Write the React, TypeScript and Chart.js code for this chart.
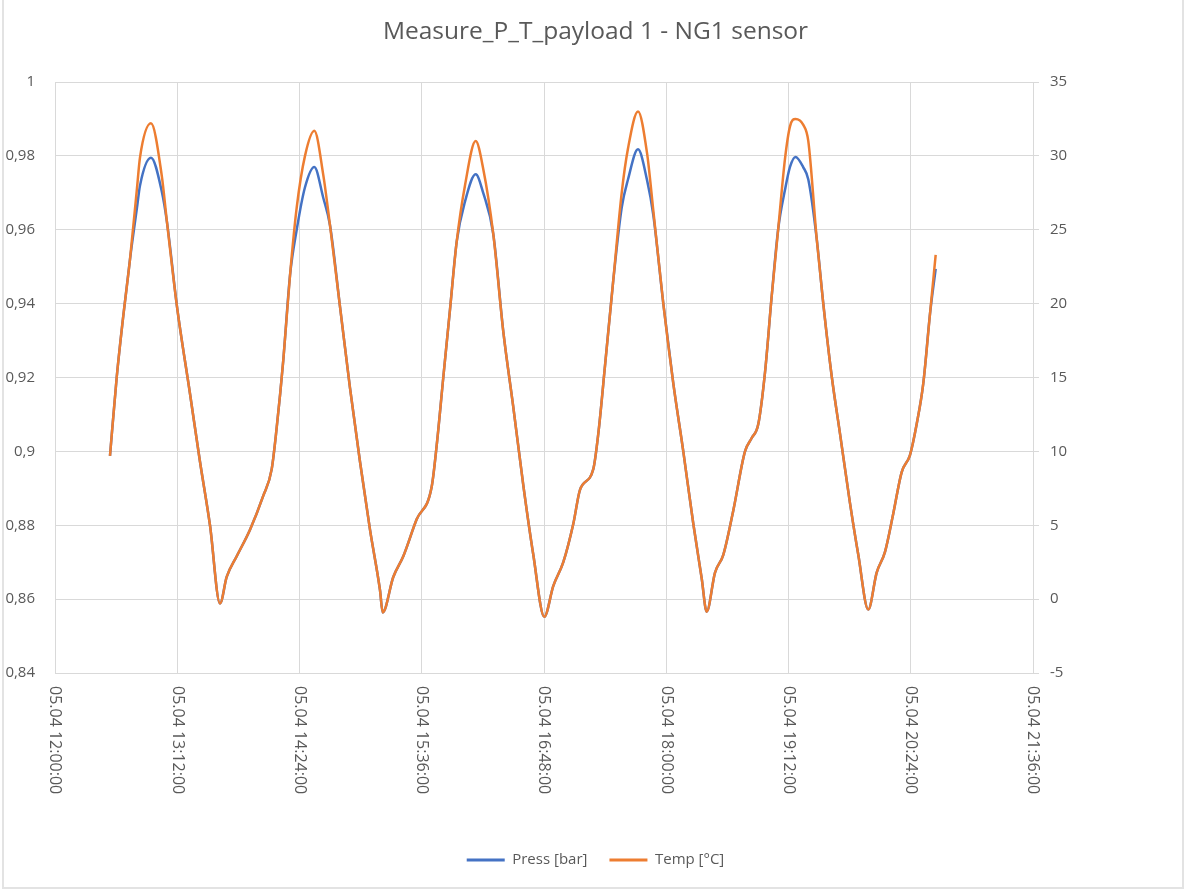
import React, { useEffect, useRef } from 'react';
import { Chart, registerables } from 'chart.js';

Chart.register(...registerables);

// Sample times on 05.04 (HH:MM:SS)
const times = [
  '12:32:23', '12:36:20', '12:40:03', '12:44:10', '12:48:17', '12:50:04', '12:56:32', '13:02:50', '13:05:58', '13:11:51',
  '13:19:31', '13:25:24', '13:31:17', '13:37:11', '13:41:07', '13:47:01', '13:54:51', '14:02:41', '14:07:38', '14:10:34',
  '14:14:28', '14:18:24', '14:22:21', '14:27:14', '14:32:43', '14:38:01', '14:41:58', '14:47:51', '14:53:44', '14:59:38',
  '15:05:31', '15:11:25', '15:13:00', '15:19:14', '15:25:08', '15:33:01', '15:41:51', '15:44:48', '15:48:41', '15:52:38',
  '15:56:35', '16:01:28', '16:07:46', '16:12:15', '16:18:08', '16:24:02', '16:29:55', '16:35:49', '16:41:42', '16:48:11',
  '16:53:29', '16:59:22', '17:05:16', '17:09:12', '17:17:02', '17:19:59', '17:23:56', '17:28:49', '17:33:46', '17:37:28',
  '17:43:22', '17:48:40', '17:52:23', '17:58:16', '18:04:09', '18:10:02', '18:15:56', '18:20:53', '18:23:49', '18:28:43',
  '18:33:36', '18:39:29', '18:46:23', '18:50:20', '18:54:13', '18:58:10', '19:02:06', '19:05:59', '19:09:56', '19:12:53',
  '19:16:07', '19:20:43', '19:23:40', '19:28:36', '19:32:29', '19:37:26', '19:42:20', '19:48:13', '19:53:06', '19:58:59',
  '20:03:56', '20:08:50', '20:13:43', '20:18:40', '20:23:33', '20:27:30', '20:31:23', '20:35:20', '20:38:41',
];

const pressBar = [
  0.8988, 0.920, 0.936, 0.952, 0.966, 0.972, 0.9795, 0.9705, 0.962, 0.9392,
  0.9156, 0.8972, 0.880, 0.8588, 0.866, 0.8716, 0.8788, 0.888, 0.8952, 0.9064,
  0.9248, 0.9476, 0.960, 0.9715, 0.977, 0.9686, 0.9612, 0.9392, 0.9172, 0.8972,
  0.8788, 0.8624, 0.8564, 0.866, 0.8716, 0.8816, 0.8904, 0.9016, 0.920, 0.9384,
  0.9568, 0.9676, 0.975, 0.9699, 0.9588, 0.9324, 0.912, 0.8908, 0.872, 0.8552,
  0.8636, 0.870, 0.8804, 0.8896, 0.8952, 0.9048, 0.9232, 0.9464, 0.966, 0.9736,
  0.9818, 0.9735, 0.964, 0.940, 0.9184, 0.900, 0.8804, 0.8656, 0.8566, 0.8672,
  0.872, 0.884, 0.900, 0.9036, 0.9074, 0.9214, 0.942, 0.9604, 0.9708, 0.977,
  0.9797, 0.9769, 0.9736, 0.9576, 0.940, 0.9204, 0.9048, 0.886, 0.872, 0.8572,
  0.8672, 0.8728, 0.8832, 0.8944, 0.899, 0.9074, 0.9184, 0.9372, 0.9494,
];

const tempC = [
  9.7, 15.0, 19.0, 23.0, 27.8, 29.9, 32.2, 28.7, 25.5, 19.8,
  13.9, 9.3, 5.0, -0.3, 1.5, 2.9, 4.7, 7.0, 8.8, 11.6,
  16.2, 21.9, 26.5, 30.0, 31.7, 28.7, 25.3, 19.8, 14.3, 9.3,
  4.7, 0.6, -0.9, 1.5, 2.9, 5.4, 7.6, 10.4, 15.0, 19.6,
  24.2, 28.0, 31.0, 29.1, 24.7, 18.1, 13.0, 7.7, 3.0, -1.2,
  0.9, 2.5, 5.1, 7.4, 8.8, 11.2, 15.8, 21.6, 27.5, 30.5,
  33.0, 30.2, 26.3, 20.0, 14.6, 10.0, 5.1, 1.4, -0.85, 1.8,
  3.0, 6.0, 10.0, 10.9, 11.85, 15.35, 20.5, 25.1, 29.8, 32.0,
  32.5, 32.1, 31.0, 24.4, 20.0, 15.1, 11.2, 6.5, 3.0, -0.7,
  1.8, 3.2, 5.8, 8.6, 9.75, 11.85, 14.6, 19.3, 23.3,
];

const xTickLabels = [
  '05.04 12:00:00', '05.04 13:12:00', '05.04 14:24:00', '05.04 15:36:00', '05.04 16:48:00',
  '05.04 18:00:00', '05.04 19:12:00', '05.04 20:24:00', '05.04 21:36:00',
];

const seriesNames = ['Press [bar]', 'Temp [°C]'];
const chartTitle = 'Measure_P_T_payload 1 - NG1 sensor';

const W = 1191;
const H = 891;
const PLOT_LEFT = 55;
const PLOT_RIGHT = 1033;
const PLOT_BOTTOM = 673;
const BOTTOM_PAD = 13.5;
const TEXT = '#595959';
const GRID = '#d9d9d9';
const FONT = '"Open Sans", "DejaVu Sans", sans-serif';

const toMinutes = (t: string) => {
  const [h, m, s] = t.split(':').map(Number);
  return (h - 12) * 60 + m + (s || 0) / 60;
};

const xLabelPlugin = {
  id: 'rotatedXLabels',
  afterDraw(chart: any) {
    const s = chart.scales.x;
    const ctx = chart.ctx;
    ctx.save();
    ctx.font = `16px ${FONT}`;
    ctx.fillStyle = TEXT;
    ctx.textAlign = 'left';
    ctx.textBaseline = 'middle';
    s.ticks.forEach((t: any, i: number) => {
      const x = s.getPixelForValue(t.value);
      ctx.save();
      ctx.translate(x, s.top + 13);
      ctx.rotate(Math.PI / 2);
      ctx.fillText(xTickLabels[i] ?? '', 0, 0);
      ctx.restore();
    });
    ctx.restore();
  },
};

export default function App() {
  const ref = useRef<HTMLCanvasElement>(null);

  useEffect(() => {
    document.body.style.margin = '0';
    const canvas = ref.current;
    if (!canvas) return;
    const xs = times.map(toMinutes);
    const chart = new Chart(canvas, {
      type: 'line',
      data: {
        datasets: [
          {
            label: seriesNames[0],
            data: xs.map((x, i) => ({ x, y: pressBar[i] })),
            borderColor: '#4472C4',
            backgroundColor: '#4472C4',
            borderWidth: 2.5,
            pointRadius: 0,
            cubicInterpolationMode: 'monotone',
            yAxisID: 'y',
            order: 1,
          },
          {
            label: seriesNames[1],
            data: xs.map((x, i) => ({ x, y: tempC[i] })),
            borderColor: '#ED7D31',
            backgroundColor: '#ED7D31',
            borderWidth: 2.5,
            pointRadius: 0,
            cubicInterpolationMode: 'monotone',
            yAxisID: 'y1',
            order: 0,
          },
        ],
      },
      options: {
        responsive: false,
        animation: false,
        devicePixelRatio: 1,
        layout: { padding: { left: 0, right: 0, top: 0, bottom: BOTTOM_PAD } },
        plugins: {
          title: {
            display: true,
            text: chartTitle,
            color: TEXT,
            font: { family: FONT, size: 24.5, weight: 'normal' },
            padding: { top: 17, bottom: 35.6 },
          },
          legend: {
            position: 'bottom',
            labels: {
              color: TEXT,
              font: { family: FONT, size: 15 },
              boxWidth: 38,
              boxHeight: 3,
              padding: 22,
              sort: (a: any, b: any) => a.datasetIndex - b.datasetIndex,
              generateLabels: (c: any) =>
                Chart.defaults.plugins.legend.labels
                  .generateLabels(c)
                  .map((l: any) => ({ ...l, lineWidth: 0, fillStyle: l.strokeStyle })),
            },
          },
          tooltip: { enabled: false },
        },
        scales: {
          x: {
            type: 'linear',
            min: 0,
            max: 576,
            ticks: {
              stepSize: 72,
              display: false,
              callback: (_v: any, i: number) => xTickLabels[i],
            },
            grid: { color: GRID, drawTicks: false },
            border: { color: GRID },
            afterFit: (scale: any) => {
              const lg = scale.chart.legend;
              scale.height = H - BOTTOM_PAD - (lg ? lg.height : 0) - PLOT_BOTTOM;
            },
          },
          y: {
            position: 'left',
            min: 0.84,
            max: 1,
            ticks: {
              stepSize: 0.02,
              padding: 20,
              color: TEXT,
              font: { family: FONT, size: 15 },
              callback: (v: any) => String(+Number(v).toFixed(2)).replace('.', ','),
            },
            grid: { color: GRID, drawTicks: false },
            border: { color: GRID },
            afterFit: (scale: any) => {
              scale.width = PLOT_LEFT;
            },
          },
          y1: {
            position: 'right',
            min: -5,
            max: 35,
            ticks: {
              stepSize: 5,
              padding: 11,
              color: TEXT,
              font: { family: FONT, size: 15 },
            },
            grid: { color: GRID, drawOnChartArea: false, tickLength: 6 },
            border: { color: GRID },
            afterFit: (scale: any) => {
              scale.width = W - PLOT_RIGHT;
            },
          },
        },
      },
      plugins: [xLabelPlugin],
    });
    return () => chart.destroy();
  }, []);

  return (
    <div style={{ position: 'relative', width: W, height: H, background: '#fff' }}>
      <canvas ref={ref} width={W} height={H} style={{ display: 'block', width: W, height: H }} />
      <div
        style={{
          position: 'absolute',
          left: 2,
          top: 0,
          width: 1178,
          height: 887,
          borderLeft: '2px solid #e3e3e3',
          borderRight: '2px solid #e3e3e3',
          borderBottom: '2px solid #e3e3e3',
          pointerEvents: 'none',
        }}
      />
    </div>
  );
}
